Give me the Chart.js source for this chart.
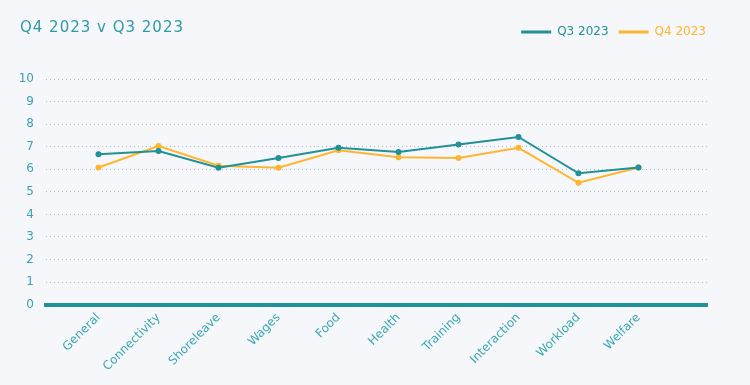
<!DOCTYPE html>
<html>
<head>
<meta charset="utf-8">
<script src="https://cdn.jsdelivr.net/npm/chart.js@4"></script>
<style>
  html, body { margin: 0; padding: 0; background: #f5f7fb; }
  #wrap { position: relative; width: 750px; height: 385px; }
  #title {
    position: absolute; left: 20px; top: 17px;
    font: 15px/20px "DejaVu Sans", sans-serif; letter-spacing: 1px;
    color: #2c9ba6;
  }
</style>
</head>
<body>
<div id="wrap">
  <div id="title">Q4 2023 v Q3 2023</div>
  <canvas id="chart" width="750" height="385"></canvas>
</div>
<script>
const categories = ['General', 'Connectivity', 'Shoreleave', 'Wages', 'Food', 'Health', 'Training', 'Interaction', 'Workload', 'Welfare'];
const q3 = [6.67, 6.81, 6.07, 6.50, 6.95, 6.76, 7.10, 7.43, 5.82, 6.08];
const q4 = [6.08, 7.03, 6.16, 6.07, 6.84, 6.53, 6.50, 6.95, 5.40, 6.08];
const yTicks = [0, 1, 2, 3, 4, 5, 6, 7, 8, 9, 10];

const teal = '#1f9197';
const orange = '#ffb52e';
const font = { family: '"DejaVu Sans", sans-serif', size: 12 };

const toPoints = arr => arr.map((v, i) => ({ x: i, y: v }));

new Chart(document.getElementById('chart'), {
    type: 'line',
    data: {
        datasets: [
            {
                label: 'Q3 2023',
                data: toPoints(q3),
                borderColor: teal,
                backgroundColor: teal,
                borderWidth: 2,
                pointRadius: 3,
                pointBackgroundColor: teal,
                pointBorderWidth: 0,
                tension: 0,
            },
            {
                label: 'Q4 2023',
                data: toPoints(q4),
                borderColor: orange,
                backgroundColor: orange,
                borderWidth: 2,
                pointRadius: 3,
                pointBackgroundColor: orange,
                pointBorderWidth: 0,
                tension: 0,
            }
        ]
    },
    options: {
        responsive: false,
        animation: false,
        layout: { padding: { top: 16, left: 19, right: 34, bottom: 5 } },
        plugins: {
            tooltip: { enabled: false },
            legend: {
                position: 'top',
                align: 'end',
                weight: 1000,
                labels: {
                    boxWidth: 30,
                    boxHeight: 3,
                    padding: 10,
                    font,
                    generateLabels: chart => {
                        const items = Chart.defaults.plugins.legend.labels.generateLabels(chart);
                        return items.map(it => ({ ...it, fontColor: it.strokeStyle, lineWidth: 0 }));
                    }
                }
            },
            // empty spacer between legend and plot
            subtitle: {
                display: true,
                text: '',
                weight: 500,
                font: { size: 10 },
                padding: { top: 19, bottom: 0 }
            }
        },
        scales: {
            x: {
                type: 'linear',
                min: -0.875,
                max: 10.142,
                grid: { display: true, color: 'transparent', drawTicks: false },
                border: { display: true, color: teal, width: 4 },
                afterBuildTicks: s => {
                    s.ticks = s.ticks.filter(t => Number.isInteger(t.value) && t.value >= 0 && t.value < categories.length);
                },
                ticks: {
                    stepSize: 1,
                    autoSkip: false,
                    includeBounds: false,
                    minRotation: 45,
                    maxRotation: 45,
                    padding: 6,
                    color: '#3aa6b0',
                    font,
                    callback: v => categories[v] ?? ''
                }
            },
            y: {
                min: 0,
                max: 10,
                afterBuildTicks: s => { s.ticks = yTicks.map(v => ({ value: v })); },
                afterFit: s => { s.width = 27; },
                grid: { color: '#a9bec8', lineWidth: 1, drawTicks: false },
                border: { display: false, dash: [1, 3] },
                ticks: {
                    color: '#3f9fb3',
                    padding: 12,
                    font
                }
            },
            // blank strip on the right so the plot stops short of the legend edge
            gap: {
                type: 'linear',
                position: 'right',
                grid: { display: false },
                border: { display: false },
                ticks: { display: false },
                afterFit: s => { s.width = 9; }
            }
        }
    }
});
</script>
</body>
</html>
